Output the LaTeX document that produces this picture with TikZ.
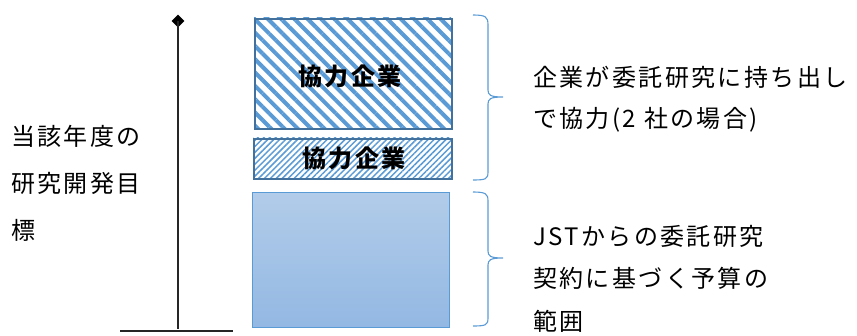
\documentclass[tikz,border=0pt]{standalone}
\usepackage{fontspec}
\newfontfamily\cjk[LetterSpace=10]{Noto Sans CJK JP}
\usetikzlibrary{shapes.geometric,patterns.meta}
\definecolor{stripe}{RGB}{91,155,213}
\definecolor{edge}{RGB}{65,113,156}
\definecolor{gradtop}{RGB}{178,204,233}
\definecolor{gradbot}{RGB}{147,184,227}
\definecolor{bracec}{RGB}{91,155,213}
\tikzset{
  lbl/.style={font=\cjk\fontsize{24}{24}\selectfont, anchor=west, inner sep=0pt},
  boxlbl/.style={font=\cjk\bfseries\fontsize{24}{24}\selectfont, inner sep=0pt},
  axis/.style={draw=black!85, line width=1.2pt},
  bracepath/.style={draw=bracec, line width=1.1pt},
}
\begin{document}
\begin{tikzpicture}[x=1pt,y=-1pt]
\useasboundingbox (0,0) rectangle (857,336);
% axis
\node[diamond, fill=black, inner sep=0pt, minimum size=13pt] (dia) at (178,21) {};
\coordinate (axbot) at (178,329);
\draw[axis] (dia.center) -- (axbot);
\coordinate (bl) at (120,331);
\coordinate (br) at (233,331);
\draw[axis] (bl) -- (br);
% top hatched box
\path[pattern={Lines[angle=-45,distance=9.4pt,line width=4pt]}, pattern color=stripe]
  (254,18) rectangle (451,128);
\node[draw=edge, line width=1.6pt, minimum width=197pt, minimum height=110pt, anchor=north west, inner sep=0pt] (top) at (254,18) {};
\node[boxlbl] (toplbl) at (350,76) {協力企業};
% middle hatched box
\path[pattern={Lines[angle=45,distance=4.2pt,line width=1.5pt]}, pattern color=stripe]
  (253,138) rectangle (451,178);
\node[draw=edge, line width=1.6pt, minimum width=198pt, minimum height=40pt, anchor=north west, inner sep=0pt] (mid) at (253,138) {};
\node[boxlbl] (midlbl) at (354,158) {協力企業};
% bottom gradient box
\node[draw=stripe, line width=1pt, top color=gradtop, bottom color=gradbot, minimum width=197pt, minimum height=135pt, anchor=north west, inner sep=0pt] (base) at (252,192) {};
% braces
\draw[bracepath] (473,15) .. controls (486,15) and (488,17) .. (488,25) -- (488,90)
  .. controls (488,95) and (490,97) .. (503,97)
  .. controls (490,97) and (488,99) .. (488,104) -- (488,172)
  .. controls (488,179) and (486,180) .. (473,180);
\draw[bracepath] (473,192) .. controls (486,192) and (488,194) .. (488,201) -- (488,251)
  .. controls (488,256) and (490,258) .. (503,258)
  .. controls (490,258) and (488,260) .. (488,265) -- (488,318)
  .. controls (488,325) and (486,326) .. (473,326);
% left text
\node[lbl] (l1) at (11,136) {当該年度の};
\node[lbl] (l2) at (11,183) {研究開発目};
\node[lbl] (l3) at (11,230) {標};
% right text
\node[lbl] (r1) at (533,77) {企業が委託研究に持ち出し};
\node[lbl] (r2) at (533,120) {で協力(2 社の場合)};
\node[lbl] (r3) at (533,236) {JSTからの委託研究};
\node[lbl] (r4) at (533,278) {契約に基づく予算の};
\node[lbl] (r5) at (533,321) {範囲};
\end{tikzpicture}
\end{document}
